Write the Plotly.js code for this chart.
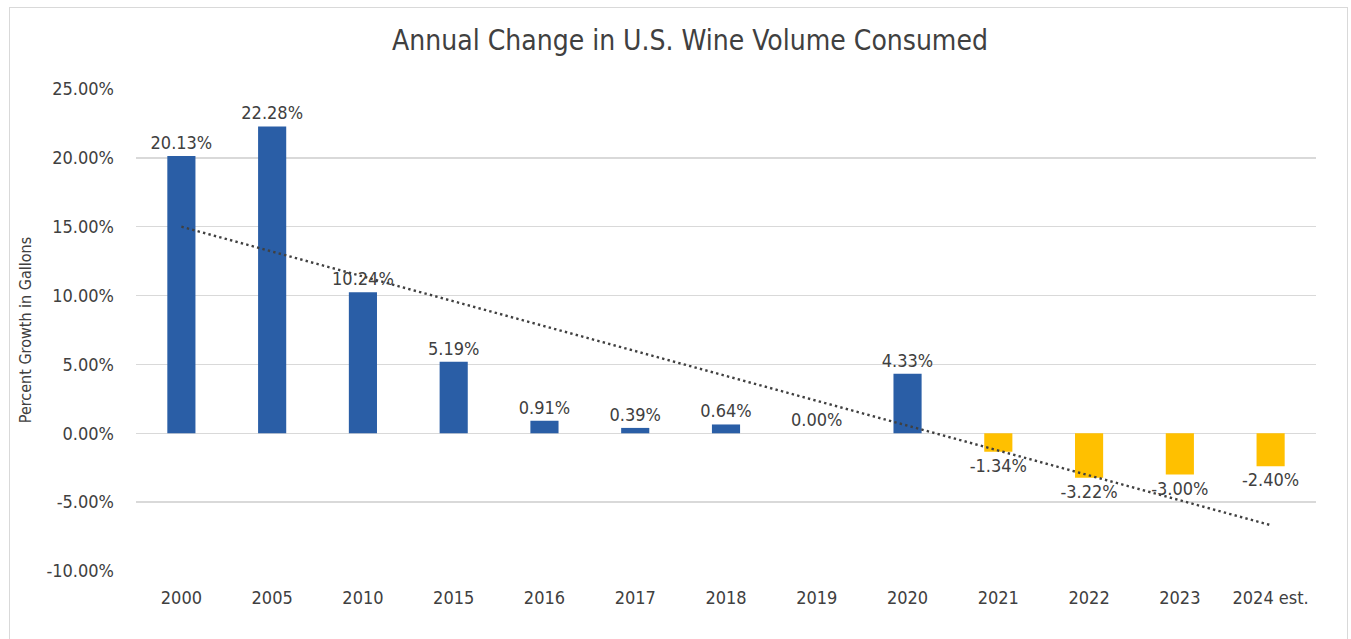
<!DOCTYPE html>
<html>
<head>
<meta charset="utf-8">
<script src="https://cdn.plot.ly/plotly-3.0.1.min.js"></script>
<style>
  html, body { margin: 0; padding: 0; background: #ffffff; overflow: hidden; }
  #chart { position: absolute; left: 0; top: 0; width: 1351px; height: 639px; }
  #frame { position: absolute; left: 9px; top: 7px; width: 1339px; height: 660px;
           border: 1.5px solid #d9d9d9; pointer-events: none; box-sizing: border-box; }
</style>
</head>
<body>
<div id="chart"></div>
<div id="frame"></div>
<script>
// Data
const categories = ["2000", "2005", "2010", "2015", "2016", "2017", "2018", "2019", "2020", "2021", "2022", "2023", "2024 est."];
const growthPct = [20.13, 22.28, 10.24, 5.19, 0.91, 0.39, 0.64, 0.00, 4.33, -1.34, -3.22, -3.00, -2.40];
const barColors = ["#2a5ea6", "#2a5ea6", "#2a5ea6", "#2a5ea6", "#2a5ea6", "#2a5ea6", "#2a5ea6", "#2a5ea6", "#2a5ea6",
                   "#ffc000", "#ffc000", "#ffc000", "#ffc000"];
// Linear trendline end points
const trendX = ["2000", "2024 est."];
const trendPct = [15.00, -6.67];
const yTickVals = [-10, -5, 0, 5, 10, 15, 20, 25];
const yTickText = ["-10.00%", "-5.00%", "0.00%", "5.00%", "10.00%", "15.00%", "20.00%", "25.00%"];

const FONT = "'Liberation Sans Narrow', 'Arial Narrow', 'DejaVu Sans Condensed', sans-serif";
const TXT = "#404040";

const bars = {
  type: "bar",
  x: categories,
  y: growthPct.map(v => v / 100),
  marker: { color: barColors, line: { width: 0 } },
  text: growthPct.map(v => v.toFixed(2) + "%"),
  textposition: "outside",
  constraintext: "none",
  cliponaxis: false,
  textfont: { family: FONT, size: 18, color: TXT },
  hoverinfo: "x+y",
  showlegend: false
};

const trend = {
  type: "scatter",
  mode: "lines",
  x: trendX,
  y: trendPct.map(v => v / 100),
  line: { color: "#404040", width: 2.4, dash: "2.4px,3.2px" },
  hoverinfo: "skip",
  showlegend: false
};

const layout = {
  width: 1351,
  height: 639,
  margin: { l: 136, r: 35, t: 89, b: 68 },
  paper_bgcolor: "#ffffff",
  plot_bgcolor: "#ffffff",
  bargap: 0.69,
  font: { family: FONT, color: TXT },
  title: {
    text: "Annual Change in U.S. Wine Volume Consumed",
    font: { family: FONT, size: 28, color: TXT },
    x: 0.4695, xref: "paper", xanchor: "center",
    y: 0.937, yref: "container", yanchor: "middle"
  },
  xaxis: {
    type: "category",
    tickfont: { family: FONT, size: 18, color: TXT },
    ticklabelstandoff: 14,
    showgrid: false,
    showline: false,
    ticks: "",
    automargin: false
  },
  yaxis: {
    range: [-0.10, 0.25],
    tickvals: yTickVals.map(v => v / 100),
    ticktext: yTickText,
    tickfont: { family: FONT, size: 18, color: TXT },
    ticklabelstandoff: 21,
    showgrid: true,
    gridcolor: "#d9d9d9",
    gridwidth: 1.5,
    zeroline: true,
    zerolinecolor: "#d9d9d9",
    zerolinewidth: 1.5,
    showline: false,
    ticks: "",
    automargin: false,
    title: {
      text: "Percent Growth in Gallons",
      font: { family: FONT, size: 16, color: TXT },
      standoff: 10
    }
  }
};

Plotly.newPlot("chart", [bars, trend], layout, { displayModeBar: false, staticPlot: true });
</script>
</body>
</html>
